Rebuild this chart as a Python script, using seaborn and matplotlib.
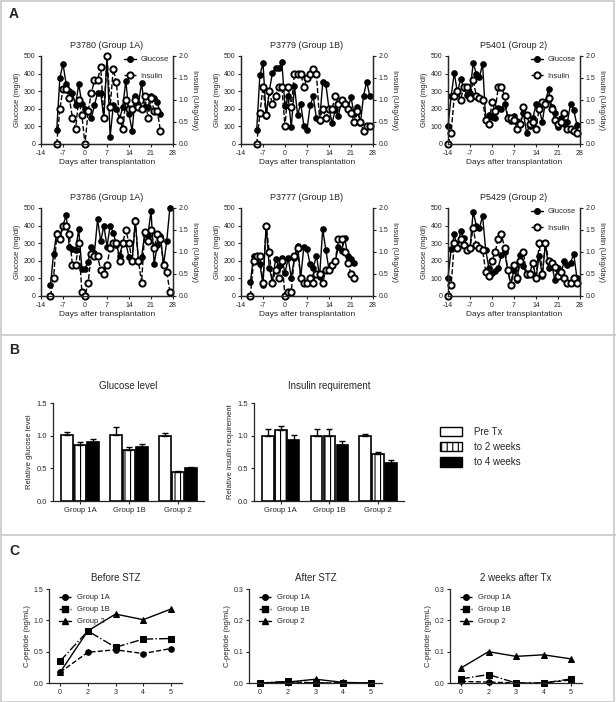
import numpy as np
import pandas as pd
import matplotlib
matplotlib.use('Agg')
from matplotlib import pyplot as plt
from matplotlib.lines import Line2D
import matplotlib.patches as mpatches
import seaborn as sns

sns.set_style('ticks')
plt.rcParams['font.family'] = ['Liberation Sans', 'DejaVu Sans']
plt.rcParams['hatch.linewidth'] = 0.8
plt.rcParams['axes.unicode_minus'] = False

# ---- panel A: daily glucose / insulin ----
p3780_days = list(range(-9, 25))
p3780_glu = [80, 375, 455, 340, 300, 290, 220, 340, 230, 200, 190, 145, 220, 290, 290, 145, 500, 40,
             220, 200, 140, 210, 360, 170, 75, 270, 230, 345, 210, 210, 270, 260, 240, 170]
p3780_ins = [0, 0.8, 1.25, 1.25, 1.05, 0.6, 0.35, 1.0, 0.65, 0, 0.75, 1.15, 1.45, 1.45, 1.75, 0.6, 2.0, 0.85,
             1.7, 1.4, 0.55, 0.35, 1.0, 0.8, 0.8, 1.0, 0.85, 0.8, 1.1, 0.6, 1.05, 0.75, 0.75, 0.3]

p3779_days = list(range(-9, 28))
p3779_glu = [80, 390, 460, 160, 300, 405, 430, 430, 465, 215, 270, 95, 330, 165, 230, 105, 80, 220, 270,
             145, 130, 350, 340, 200, 120, 195, 160, 250, 230, 200, 265, 170, 210, 120, 275, 355, 270]
p3779_ins = [0, 0.7, 1.3, 0.65, 1.2, 0.9, 1.1, 1.3, 1.3, 0.4, 1.3, 0.85, 1.6, 1.6, 1.6, 1.3, 1.5, 1.6, 1.7,
             1.6, 0.55, 0.8, 0.6, 0.8, 0.8, 1.1, 0.9, 1.0, 0.9, 0.8, 0.7, 0.5, 0.75, 0.5, 0.3, 0.4, 0.4]

p5401_days = list(range(-14, 28))
p5401_glu = [100, 270, 405, 290, 370, 320, 280, 290, 460, 400, 380, 455, 140, 165, 155, 145, 205, 200, 230,
             155, 130, 160, 130, 115, 175, 65, 105, 145, 225, 200, 125, 240, 310, 210, 175, 95, 150, 115,
             125, 230, 195, 110]
p5401_ins = [0, 0.25, 1.1, 1.2, 1.0, 1.3, 1.3, 1.05, 1.45, 1.1, 1.05, 1.0, 0.55, 0.45, 0.95, 0.75, 1.3, 1.3,
             1.1, 0.6, 0.6, 0.55, 0.35, 0.45, 0.85, 0.65, 0.45, 0.5, 0.35, 0.8, 0.95, 0.9, 1.05, 0.8, 0.55,
             0.45, 0.5, 0.7, 0.35, 0.35, 0.3, 0.25]

p3786_days = list(range(-11, 28))
p3786_glu = [60, 240, 360, 330, 400, 460, 280, 265, 260, 380, 155, 155, 195, 280, 245, 435, 310, 400, 280,
             400, 360, 290, 230, 300, 300, 220, 200, 430, 200, 220, 355, 340, 485, 180, 290, 340, 180, 310, 500]
p3786_ins = [0, 0.4, 1.4, 1.3, 1.6, 1.6, 1.4, 0.7, 0.7, 1.2, 0.1, 0, 0.3, 0.95, 0.9, 0.9, 0.6, 0.5, 0.7,
             1.1, 1.2, 1.2, 0.8, 1.2, 1.5, 1.2, 0.8, 1.7, 0.8, 0.3, 1.45, 1.25, 1.5, 1.1, 1.4, 1.3, 0.7, 0.55, 0.1]

p3777_days = list(range(-11, 23))
p3777_glu = [80, 230, 230, 180, 65, 400, 160, 80, 210, 170, 215, 130, 215, 105, 215, 285, 105, 280, 265,
             180, 160, 230, 110, 380, 260, 150, 170, 200, 280, 255, 330, 225, 210, 185]
p3777_ins = [0, 0.8, 0.9, 0.9, 0.3, 1.6, 1.0, 0.3, 0.6, 0.4, 0.8, 0, 0.1, 0.1, 0.9, 1.1, 0.4, 0.3, 0.3,
             0.4, 0.3, 0.5, 0.5, 0.3, 0.6, 0.6, 0.7, 0.8, 1.3, 1.3, 1.0, 0.75, 0.5, 0.4]

p5429_days = list(range(-14, 28))
p5429_glu = [105, 265, 350, 270, 370, 330, 280, 270, 480, 400, 385, 455, 260, 160, 130, 140, 160, 235, 250,
             150, 65, 150, 90, 235, 170, 120, 130, 190, 100, 230, 115, 300, 160, 180, 90, 160, 130, 200,
             175, 190, 240, 105]
p5429_ins = [0, 0.25, 1.2, 1.1, 1.3, 1.15, 1.05, 1.1, 1.55, 1.15, 1.1, 1.05, 0.55, 0.45, 0.8, 1.0, 1.3, 1.4,
             1.1, 0.6, 0.25, 0.7, 0.4, 0.8, 1.0, 0.5, 0.5, 0.75, 0.4, 1.2, 0.5, 1.2, 0.8, 0.75, 0.65, 0.45,
             0.55, 0.4, 0.3, 0.3, 0.4, 0.3]

# ---- panel B: relative levels ----
b_groups = ['Group 1A', 'Group 1B', 'Group 2']
b_periods = ['Pre Tx', 'to 2 weeks', 'to 4 weeks']
glu_pre = [1.01, 1.01, 1.00]
glu_2wk = [0.85, 0.78, 0.45]
glu_4wk = [0.90, 0.83, 0.50]
glu_pre_err = [0.05, 0.12, 0.04]
glu_2wk_err = [0.05, 0.05, 0.01]
glu_4wk_err = [0.05, 0.05, 0.02]
ins_pre = [1.00, 0.99, 1.00]
ins_2wk = [1.08, 0.99, 0.72]
ins_4wk = [0.93, 0.86, 0.58]
ins_pre_err = [0.10, 0.11, 0.03]
ins_2wk_err = [0.07, 0.11, 0.03]
ins_4wk_err = [0.08, 0.06, 0.04]

# ---- panel C: C-peptide ----
c_weeks = ['0', '2', '3', '4', '5']
c_groups = ['Group 1A', 'Group 1B', 'Group 2']
before_1a = [0.17, 0.49, 0.53, 0.47, 0.55]
before_1b = [0.35, 0.83, 0.57, 0.70, 0.71]
before_2 = [0.17, 0.83, 1.10, 1.01, 1.18]
after_1a = [0.0, 0.003, 0.0, 0.0, 0.0]
after_1b = [0.0, 0.005, 0.0, 0.0, 0.0]
after_2 = [0.0, 0.003, 0.012, 0.002, 0.0]
tx_1a = [0.005, 0.003, 0.0, 0.0, 0.01]
tx_1b = [0.013, 0.027, 0.0, 0.0, 0.013]
tx_2 = [0.048, 0.10, 0.085, 0.09, 0.077]

W, H = 616, 702
fig = plt.figure(figsize=(W / 100, H / 100), dpi=100)


def px(x0, y0, x1, y1):
    return [x0 / W, 1 - y1 / H, (x1 - x0) / W, (y1 - y0) / H]


def style(ax, size=5):
    ax.tick_params(direction='out', length=2.5, width=0.8, labelsize=size, pad=1.5)
    for s in ax.spines.values():
        s.set_linewidth(0.9)


def time_panel(rect, title, days, glu, ins, legend):
    ax = fig.add_axes(px(*rect))
    sns.lineplot(x=days, y=glu, ax=ax, color='black', marker='o', markersize=4,
                 markeredgecolor='black', linewidth=1.0, clip_on=False)
    ax2 = ax.twinx()
    sns.lineplot(x=days, y=ins, ax=ax2, color='black', linestyle='--', linewidth=1.0, marker='o',
                 markersize=4.5, markerfacecolor='white', markeredgecolor='black', markeredgewidth=1.4,
                 clip_on=False)
    ax.set_xlim(-14, 28)
    ax.set_ylim(0, 500)
    ax2.set_ylim(0, 2.0)
    ax.set_xticks([-14, -7, 0, 7, 14, 21, 28])
    ax.set_yticks([0, 100, 200, 300, 400, 500])
    ax2.set_yticks([0, 0.5, 1.0, 1.5, 2.0])
    ax2.set_yticklabels(['0.0', '0.5', '1.0', '1.5', '2.0'])
    for a in (ax, ax2):
        style(a)
        a.spines['top'].set_visible(False)
    ax.set_title(title, fontsize=6.5, pad=6)
    ax.set_xlabel('Days after transplantation', fontsize=6, labelpad=2)
    ax.set_ylabel('Glucose (mg/dl)', fontsize=5.5, labelpad=2)
    ax2.set_ylabel('Insulin (U/kg/day)', fontsize=5.5, rotation=270, labelpad=7)
    if legend:
        h = [Line2D([], [], color='black', marker='o', markersize=4, linewidth=1.0),
             Line2D([], [], color='black', linestyle='--', marker='o', markersize=4.5,
                    markerfacecolor='white', markeredgewidth=1.4, linewidth=1.0)]
        ax2.legend(h, ['Glucose', 'Insulin'], loc='upper right', bbox_to_anchor=(1.02, 1.08),
                   frameon=False, fontsize=5.5, handlelength=1.6, labelspacing=1.2, handletextpad=0.6)


time_panel((41, 56, 173, 144), 'P3780 (Group 1A)', p3780_days, p3780_glu, p3780_ins, True)
time_panel((241, 56, 373, 144), 'P3779 (Group 1B)', p3779_days, p3779_glu, p3779_ins, False)
time_panel((448, 56, 580, 144), 'P5401 (Group 2)', p5401_days, p5401_glu, p5401_ins, True)
time_panel((41, 208, 173, 296), 'P3786 (Group 1A)', p3786_days, p3786_glu, p3786_ins, False)
time_panel((241, 208, 373, 296), 'P3777 (Group 1B)', p3777_days, p3777_glu, p3777_ins, False)
time_panel((448, 208, 580, 296), 'P5429 (Group 2)', p5429_days, p5429_glu, p5429_ins, True)


def bar_panel(rect, title, ylabel, means, errs):
    ax = fig.add_axes(px(*rect))
    df = pd.DataFrame({'group': b_groups * 3,
                       'period': np.repeat(b_periods, 3),
                       'value': means[0] + means[1] + means[2]})
    sns.barplot(data=df, x='group', y='value', hue='period', ax=ax, order=b_groups, hue_order=b_periods,
                palette={'Pre Tx': 'white', 'to 2 weeks': 'white', 'to 4 weeks': 'black'},
                edgecolor='black', linewidth=1.2, width=0.8, gap=0.12, errorbar=None, legend=False)
    bars = list(ax.containers)
    for p in bars[1].patches:
        p.set_hatch('|||')
    for cont, m, e in zip(bars, means, errs):
        xs = [p.get_x() + p.get_width() / 2 for p in cont.patches]
        ax.errorbar(xs, m, yerr=[np.zeros(3), e], fmt='none', ecolor='black', elinewidth=1,
                    capsize=2, capthick=1)
    ax.set_xlim(-0.55, 2.53)
    ax.set_ylim(0, 1.5)
    ax.set_yticks([0, 0.5, 1.0, 1.5])
    ax.set_yticklabels(['0.0', '0.5', '1.0', '1.5'])
    style(ax, 5.5)
    sns.despine(ax=ax)
    ax.set_xlabel('')
    ax.set_ylabel(ylabel, fontsize=5.5, labelpad=3)
    ax.set_title(title, fontsize=7, pad=10)


bar_panel((53, 403, 204, 501), 'Glucose level', 'Relative glucose level',
          [glu_pre, glu_2wk, glu_4wk], [glu_pre_err, glu_2wk_err, glu_4wk_err])
bar_panel((254, 403, 404, 501), 'Insulin requirement', 'Relative insulin requirement',
          [ins_pre, ins_2wk, ins_4wk], [ins_pre_err, ins_2wk_err, ins_4wk_err])

leg_h = [mpatches.Patch(facecolor='white', edgecolor='black', linewidth=1),
         mpatches.Patch(facecolor='white', edgecolor='black', linewidth=1, hatch='|||'),
         mpatches.Patch(facecolor='black', edgecolor='black', linewidth=1)]
fig.legend(leg_h, b_periods, loc='upper left', bbox_to_anchor=(431 / W, 1 - 418 / H), frameon=False,
           fontsize=7, handlelength=2.3, handleheight=1.1, labelspacing=0.55, handletextpad=1.2)


def cpep_panel(rect, title, ymax, yticks, s1a, s1b, s2):
    ax = fig.add_axes(px(*rect))
    df = pd.DataFrame({'week': c_weeks * 3,
                       'group': np.repeat(c_groups, 5),
                       'cpep': s1a + s1b + s2})
    sns.pointplot(data=df, x='week', y='cpep', hue='group', ax=ax, order=c_weeks, hue_order=c_groups,
                  palette=['black'] * 3, markers=['o', 's', '^'], linestyles=['--', '-.', '-'],
                  errorbar=None, markersize=4, linewidth=1.0, legend=False, clip_on=False)
    ax.set_xlim(-0.4, 4.4)
    ax.set_ylim(0, ymax)
    ax.set_yticks(yticks)
    ax.set_yticklabels(['%.1f' % t for t in yticks])
    style(ax, 5)
    sns.despine(ax=ax)
    ax.set_xlabel('')
    ax.set_ylabel('C-peptide (ng/mL)', fontsize=5.5, labelpad=2)
    ax.set_title(title, fontsize=7, pad=6)
    h = [Line2D([], [], color='black', marker='o', markersize=4, linestyle='--', linewidth=1.0),
         Line2D([], [], color='black', marker='s', markersize=4, linestyle='-.', linewidth=1.0),
         Line2D([], [], color='black', marker='^', markersize=4, linestyle='-', linewidth=1.0)]
    ax.legend(h, c_groups, loc='upper left', bbox_to_anchor=(0.02, 1.02), frameon=False, fontsize=5.5,
              handlelength=1.6, labelspacing=0.6, handletextpad=0.8)


cpep_panel((49, 589, 182, 683), 'Before STZ', 1.5, [0.0, 0.5, 1.0, 1.5], before_1a, before_1b, before_2)
cpep_panel((249, 589, 382, 683), 'After STZ', 0.3, [0.0, 0.1, 0.2, 0.3], after_1a, after_1b, after_2)
cpep_panel((450, 589, 582, 683), '2 weeks after Tx', 0.3, [0.0, 0.1, 0.2, 0.3], tx_1a, tx_1b, tx_2)

# panel letters and frame
for letter, y in [('A', 14), ('B', 350), ('C', 551)]:
    fig.text(9 / W, 1 - y / H, letter, fontsize=10, fontweight='bold', va='center')
fig.add_artist(mpatches.Rectangle((0.5 / W, 0.5 / H), (W - 3) / W, (H - 1.5) / H, transform=fig.transFigure,
                                  fill=False, edgecolor='#c8c8c8', linewidth=1.2))
for y in [335, 535]:
    fig.add_artist(Line2D([0, 1], [1 - y / H, 1 - y / H], transform=fig.transFigure, color='#c8c8c8',
                          linewidth=1.2))

fig.savefig('out.png', dpi=100)
